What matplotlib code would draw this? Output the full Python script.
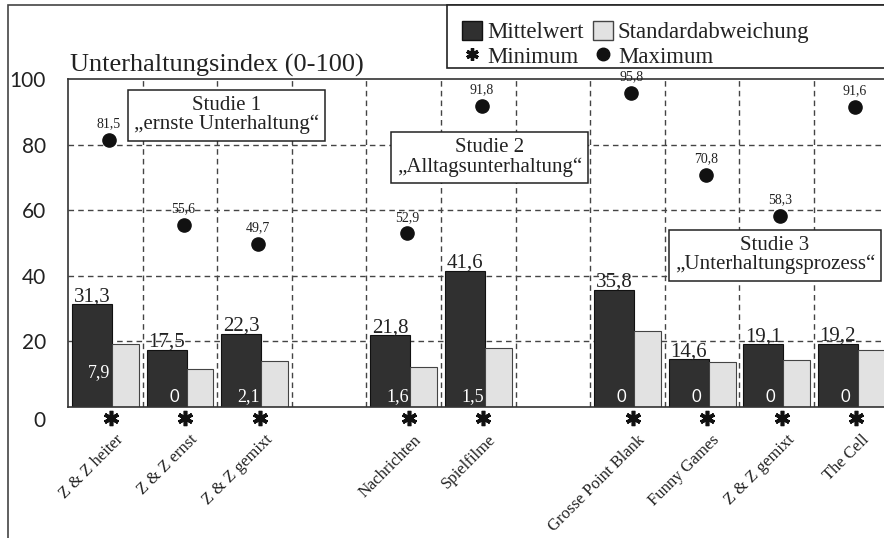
import matplotlib
matplotlib.use("Agg")
import matplotlib.pyplot as plt
from matplotlib.patches import Rectangle, Patch
from matplotlib.lines import Line2D
from matplotlib.transforms import ScaledTranslation

# Daten
studien = ["Studie 1\n„ernste Unterhaltung“",
           "Studie 2\n„Alltagsunterhaltung“",
           "Studie 3\n„Unterhaltungsprozess“"]
kategorien = [["Z & Z heiter", "Z & Z ernst", "Z & Z gemixt"],
              ["Nachrichten", "Spielfilme"],
              ["Grosse Point Blank", "Funny Games", "Z & Z gemixt", "The Cell"]]
mittelwert = [31.3, 17.5, 22.3, 21.8, 41.6, 35.8, 14.6, 19.1, 19.2]
standardabw = [19.2, 11.5, 13.9, 12.1, 18.1, 23.3, 13.8, 14.4, 17.5]
minimum = [7.9, 0, 2.1, 1.6, 1.5, 0, 0, 0, 0]
maximum = [81.5, 55.6, 49.7, 52.9, 91.8, 95.8, 70.8, 58.3, 91.6]

SERIF = "Liberation Serif"
SANS = "Lato"
DUNKEL = "#303030"
HELL = "#e2e2e2"

# x-Positionen: Gruppen mit je einer Lücke dazwischen
pos = []
namen = []
start = 0
for gruppe in kategorien:
    for k, n in enumerate(gruppe):
        pos.append(start + k)
        namen.append(n)
    start += len(gruppe) + 1

fig = plt.figure(figsize=(8.84, 5.38), dpi=100)
ax = fig.add_axes([68 / 884, 1 - 407 / 538, (884 - 68) / 884, (407 - 79) / 538])

ax.set_xlim(-0.5, 10.44)
ax.set_ylim(0, 100)

# Gitter
for y in [20, 40, 60, 80]:
    ax.axhline(y, color="#444444", lw=1, ls=(0, (4, 3)), zorder=0)
for x in range(1, 11):
    ax.axvline(x - 0.5, color="#444444", lw=1, ls=(0, (4, 3)), zorder=0)

# Balken
ax.bar([p - 0.447 for p in pos], mittelwert, width=0.537, align="edge",
       color=DUNKEL, edgecolor="#111111", lw=0.8, zorder=2)
ax.bar([p + 0.09 for p in pos], standardabw, width=0.36, align="edge",
       color=HELL, edgecolor="#444444", lw=0.8, zorder=2)

# Maximum
ax.plot([p + 0.05 for p in pos], maximum, "o", color="#111111", ms=9.5,
        ls="none", zorder=3)
for p, v in zip(pos, maximum):
    ax.annotate(f"{v:.1f}".replace(".", ","), (p + 0.05, v), xytext=(0, 7),
                textcoords="offset points", ha="center", va="bottom",
                fontsize=10, family=SERIF, color="#222222", zorder=3)

# Minimum: Sternchen unter der Achse, Wert in den Balken
ax.plot([p + 0.07 for p in pos], [-3.3] * len(pos), ls="none",
        marker=(6, 2, 0), ms=11, mew=2.6, color="#111111", clip_on=False)
for p, v in zip(pos, minimum):
    txt = f"{v:.1f}".replace(".", ",") if v else "0"
    ax.text(p - 0.08, v if v > 5 else 0.6, txt, ha="center", va="bottom",
            color="white", fontsize=13 if v else 12,
            family=SERIF if v else SANS, zorder=4)

# Mittelwert-Beschriftung
for p, v in zip(pos, mittelwert):
    ax.text(p - 0.18, v - 0.6, f"{v:.1f}".replace(".", ","), ha="center",
            va="bottom", fontsize=15, family=SERIF, color="#222222", zorder=4)

# Studien-Kästen
box = dict(boxstyle="square,pad=0.3", fc="white", ec="#222222", lw=1.1)
for txt, (x, y) in zip(studien, [(1.625, 89), (5.15, 76), (8.98, 46.3)]):
    ax.text(x, y, txt, ha="center", va="center", fontsize=15, family=SERIF,
            linespacing=1.0, bbox=box, zorder=5, color="#222222")

# Achsen
ax.set_xticks([p + 0.13 for p in pos])
ax.set_xticklabels(namen, rotation=45, ha="right", rotation_mode="anchor",
                   fontsize=12, family=SERIF, color="#222222")
ax.tick_params(axis="x", length=0, pad=18)
ax.set_yticks(range(0, 101, 20))
ax.set_yticklabels([str(v) for v in range(0, 101, 20)], fontsize=15,
                   family=SANS, color="#222222")
ax.tick_params(axis="y", length=0, pad=16)
for s in ["left", "top", "bottom"]:
    ax.spines[s].set_color("#333333")
    ax.spines[s].set_linewidth(1.2)
ax.spines["right"].set_visible(False)

# die "0" sitzt im Original etwas tiefer
null = ax.get_yticklabels()[0]
null.set_transform(null.get_transform() + ScaledTranslation(0, -0.12, fig.dpi_scale_trans))

fig.text(70 / 884, 1 - 72 / 538, "Unterhaltungsindex (0-100)", fontsize=19,
         family=SERIF, color="#222222", va="baseline")

# Rahmen und Legende
fig.add_artist(Rectangle((8 / 884, -0.1), 1.2, 1.1 - 5 / 538,
                         transform=fig.transFigure, fill=False,
                         ec="#444444", lw=1.2))
fig.add_artist(Rectangle((447 / 884, 1 - 68 / 538), 0.6, 63 / 538,
                         transform=fig.transFigure, fc="white",
                         ec="#222222", lw=1.2))
handles = [Patch(fc=DUNKEL, ec="#111111"),
           Line2D([], [], ls="none", marker=(6, 2, 0), ms=9, mew=2.4, color="#111111"),
           Patch(fc=HELL, ec="#444444"),
           Line2D([], [], ls="none", marker="o", ms=9, color="#111111")]
labels = ["Mittelwert", "Minimum", "Standardabweichung", "Maximum"]
fig.legend(handles, labels, ncol=2, loc="upper left",
           bbox_to_anchor=(448 / 884, 1 - 7 / 538), frameon=False,
           prop={"family": SERIF, "size": 16.5}, handlelength=0.9,
           handleheight=0.9, handletextpad=0.2, columnspacing=0.4,
           labelspacing=0.1, borderpad=0.1, labelcolor="#222222")

fig.savefig("out.png", dpi=100)
